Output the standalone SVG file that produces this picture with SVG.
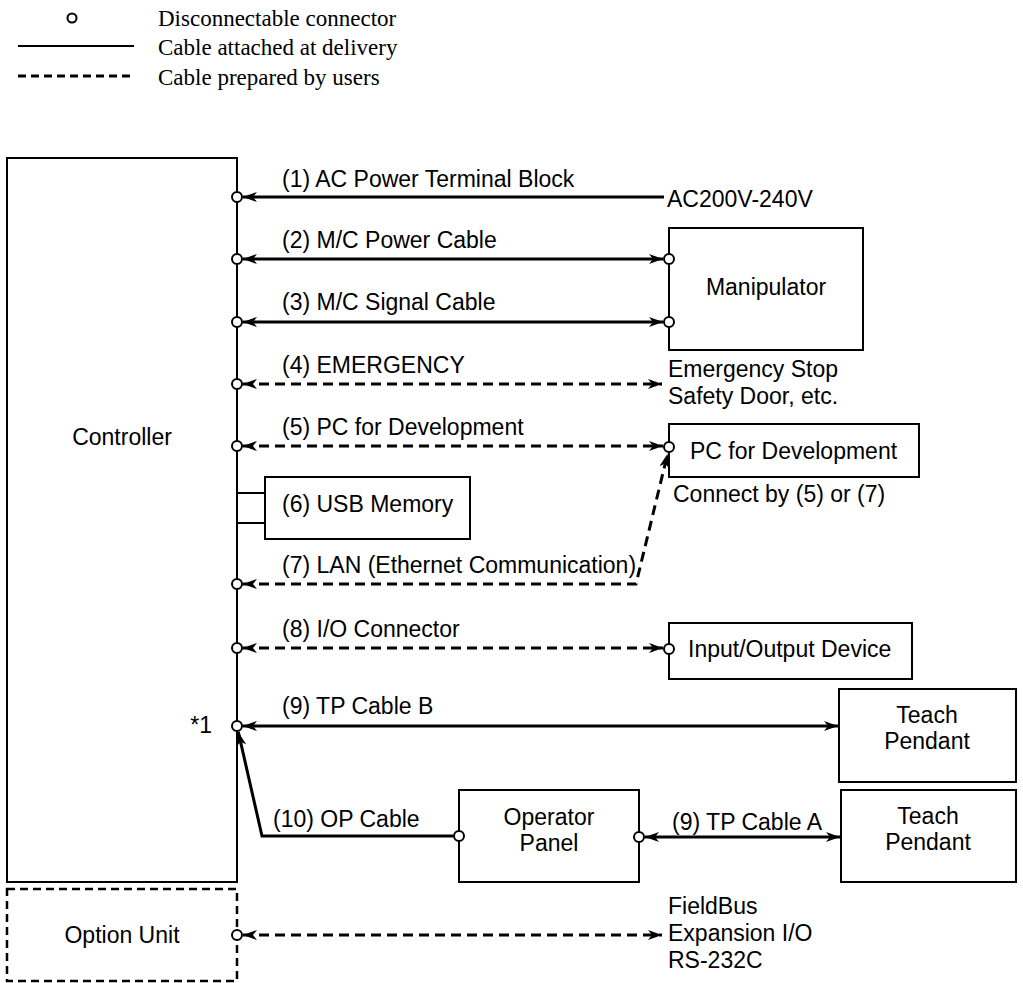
<svg xmlns="http://www.w3.org/2000/svg" width="1023" height="983" viewBox="0 0 1023 983">
<style>
text{font-family:"Liberation Sans",Arial,sans-serif;font-size:23px;fill:#000}
.leg{font-family:"Liberation Serif","Times New Roman",serif;font-size:23px}
.box{fill:#fff;stroke:#000;stroke-width:2}
.dbox{fill:none;stroke:#000;stroke-width:2.5;stroke-dasharray:8 5}
.solid{fill:none;stroke:#000;stroke-width:3}
.dash{fill:none;stroke:#000;stroke-width:3;stroke-dasharray:10 6}
.con{fill:#fff;stroke:#000;stroke-width:2}
.mid{text-anchor:middle}
</style>
<defs>
<marker id="arr" viewBox="0 0 14 10" refX="14" refY="5" markerWidth="14" markerHeight="10" markerUnits="userSpaceOnUse" orient="auto-start-reverse">
<path d="M0,0 L14,5 L0,10 L4,5 z" fill="#000"/>
</marker>
</defs>

<g id="legend">
<circle cx="72" cy="18" r="4.5" class="con"/>
<text class="leg" x="158" y="26">Disconnectable connector</text>
<line x1="18" y1="46" x2="134" y2="46" stroke="#000" stroke-width="2"/>
<text class="leg" x="158" y="55">Cable attached at delivery</text>
<line x1="18" y1="76" x2="134" y2="76" stroke="#000" stroke-width="3" stroke-dasharray="8 5"/>
<text class="leg" x="158" y="85">Cable prepared by users</text>
</g>

<g id="controller">
<rect class="box" x="7" y="158" width="230" height="724"/>
<text class="mid" x="122" y="445">Controller</text>
<text x="212" y="733" style="text-anchor:end">*1</text>
</g>
<g id="option-unit">
<rect class="dbox" x="7" y="889" width="230" height="92"/>
<text class="mid" x="122" y="943">Option Unit</text>
</g>
<g id="manipulator">
<rect class="box" x="669" y="228" width="194" height="122"/>
<text class="mid" x="766" y="295">Manipulator</text>
</g>
<g id="pc">
<rect class="box" x="669" y="424" width="250" height="53"/>
<text x="690" y="459">PC for Development</text>
<text x="673" y="502">Connect by (5) or (7)</text>
</g>
<g id="usb">
<line x1="237" y1="493" x2="265" y2="493" stroke="#000" stroke-width="2"/>
<line x1="237" y1="523" x2="265" y2="523" stroke="#000" stroke-width="2"/>
<rect class="box" x="265" y="477" width="205" height="62"/>
<text x="282" y="512">(6) USB Memory</text>
</g>
<g id="io-device">
<rect class="box" x="669" y="623" width="243" height="56"/>
<text x="688" y="657">Input/Output Device</text>
</g>
<g id="teach-pendant-b">
<rect class="box" x="839" y="689" width="177" height="93"/>
<text class="mid" x="927" y="723">Teach</text>
<text class="mid" x="927" y="749">Pendant</text>
</g>
<g id="teach-pendant-a">
<rect class="box" x="841" y="790" width="175" height="92"/>
<text class="mid" x="928" y="824">Teach</text>
<text class="mid" x="928" y="850">Pendant</text>
</g>
<g id="operator-panel">
<rect class="box" x="459" y="790" width="180" height="92"/>
<text class="mid" x="549" y="825">Operator</text>
<text class="mid" x="549" y="851">Panel</text>
</g>
<g id="external-texts">
<text x="667" y="207">AC200V-240V</text>
<text x="668" y="377">Emergency Stop</text>
<text x="668" y="404">Safety Door, etc.</text>
<text x="668" y="914">FieldBus</text>
<text x="668" y="941">Expansion I/O</text>
<text x="668" y="968">RS-232C</text>
</g>

<g id="connectors">
<path class="solid" d="M664,197 H243" marker-end="url(#arr)"/>
<text x="282" y="187">(1) AC Power Terminal Block</text>
<path class="solid" d="M243,259 H663" marker-start="url(#arr)" marker-end="url(#arr)"/>
<text x="282" y="248">(2) M/C Power Cable</text>
<path class="solid" d="M243,322 H663" marker-start="url(#arr)" marker-end="url(#arr)"/>
<text x="282" y="310">(3) M/C Signal Cable</text>
<path class="dash" d="M243,384 H662" marker-start="url(#arr)" marker-end="url(#arr)"/>
<text x="282" y="373">(4) EMERGENCY</text>
<path class="dash" d="M243,446 H663" marker-start="url(#arr)" marker-end="url(#arr)"/>
<text x="282" y="435">(5) PC for Development</text>
<path class="dash" d="M243,584 H636 L667.6,453.8" marker-start="url(#arr)" marker-end="url(#arr)"/>
<text x="282" y="573">(7) LAN (Ethernet Communication)</text>
<path class="dash" d="M243,648 H663" marker-start="url(#arr)" marker-end="url(#arr)"/>
<text x="282" y="637">(8) I/O Connector</text>
<path class="solid" d="M243,726 H838" marker-start="url(#arr)" marker-end="url(#arr)"/>
<text x="282" y="714">(9) TP Cable B</text>
<path class="solid" d="M238.3,731.9 L262,836 H453" marker-start="url(#arr)"/>
<text x="273" y="827">(10) OP Cable</text>
<path class="solid" d="M645,837 H840" marker-start="url(#arr)" marker-end="url(#arr)"/>
<text x="672" y="830">(9) TP Cable A</text>
<path class="dash" d="M243,935 H662" marker-start="url(#arr)" marker-end="url(#arr)"/>
</g>

<g id="connector-points">
<circle class="con" cx="237" cy="197" r="5"/>
<circle class="con" cx="237" cy="259" r="5"/>
<circle class="con" cx="237" cy="322" r="5"/>
<circle class="con" cx="237" cy="384" r="5"/>
<circle class="con" cx="237" cy="446" r="5"/>
<circle class="con" cx="237" cy="584" r="5"/>
<circle class="con" cx="237" cy="648" r="5"/>
<circle class="con" cx="237" cy="726" r="5"/>
<circle class="con" cx="237" cy="935" r="5"/>
<circle class="con" cx="669" cy="259" r="5"/>
<circle class="con" cx="669" cy="322" r="5"/>
<circle class="con" cx="669" cy="447" r="5"/>
<circle class="con" cx="669" cy="649" r="5"/>
<circle class="con" cx="459" cy="836" r="5"/>
<circle class="con" cx="639" cy="837" r="5"/>
</g>
</svg>
